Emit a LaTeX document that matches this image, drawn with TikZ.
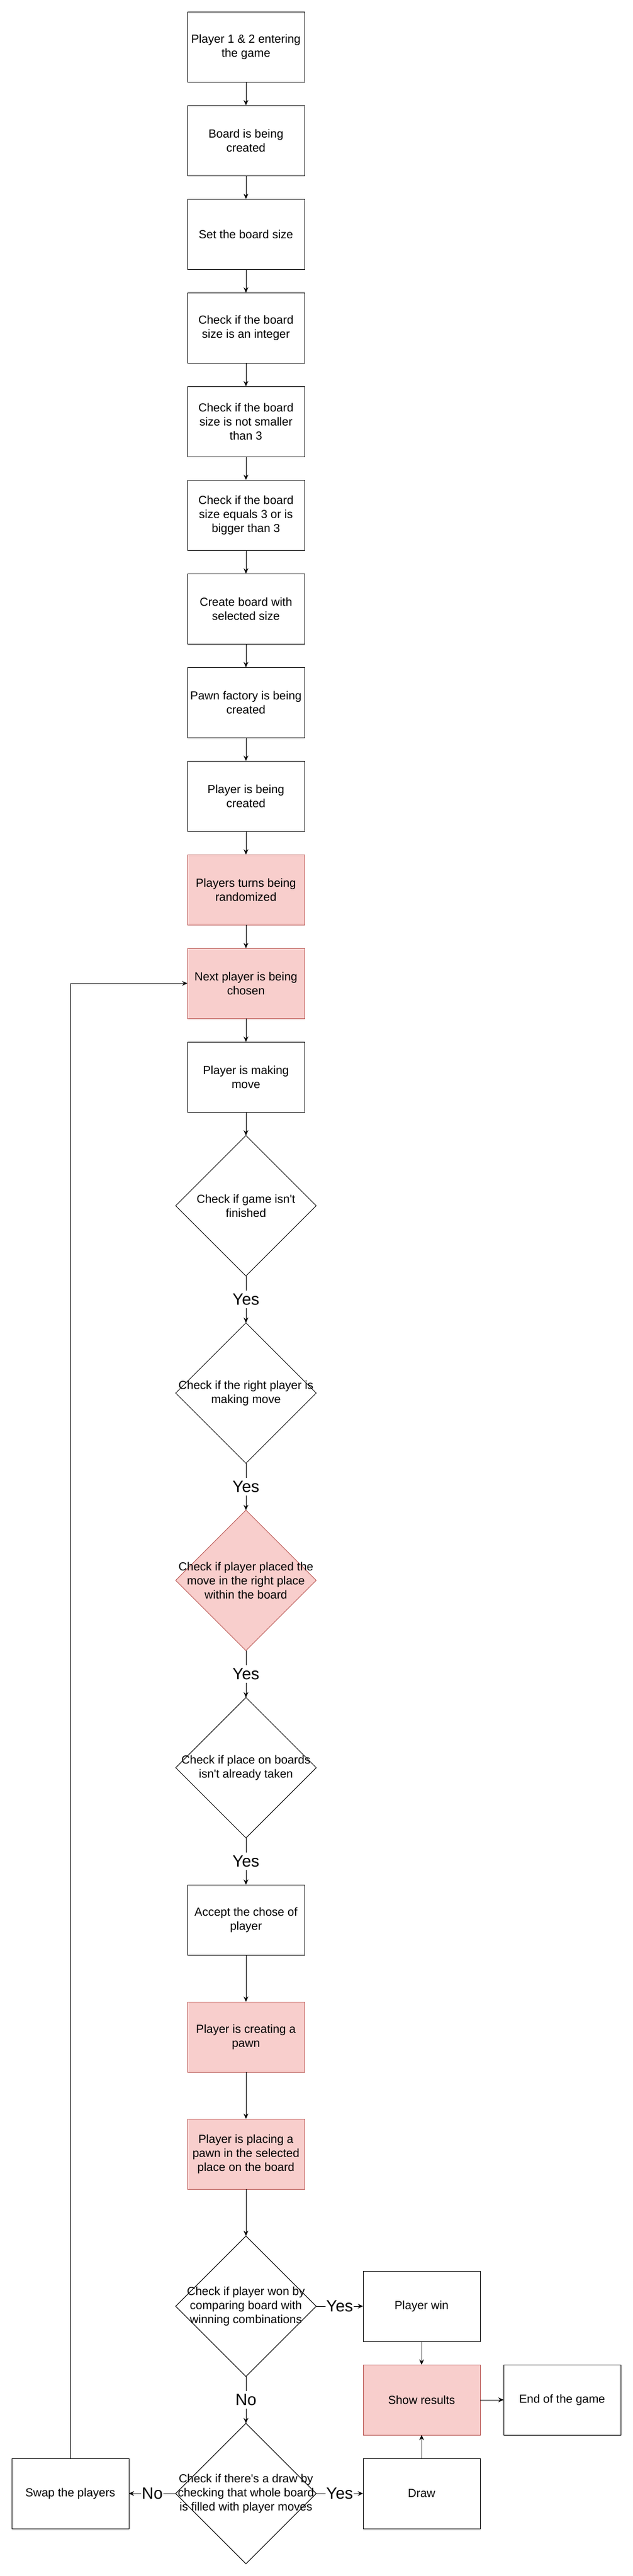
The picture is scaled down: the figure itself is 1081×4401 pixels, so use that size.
\documentclass[tikz,border=0pt]{standalone}
\usepackage{fontspec}
\newfontfamily\flowfont{Liberation Sans}
\usetikzlibrary{arrows, positioning, shapes.geometric, arrows.meta}
\definecolor{pinkfill}{HTML}{F8CECC}
\definecolor{pinkline}{HTML}{B85450}

\begin{document}
\begin{tikzpicture}[x=1pt, y=-1pt, node distance=40pt, line width=1pt, >={Stealth[length=9pt, width=8pt, inset=3pt]},
		box/.style={rectangle, draw, minimum width=200pt, minimum height=120pt, inner sep=0pt, outer sep=0pt, align=center, font=\flowfont\fontsize{20}{24}\selectfont},
		decision/.style={diamond, draw, minimum width=240pt, minimum height=240pt, inner sep=0pt, outer sep=0pt},
		txt/.style={align=center, font=\flowfont\fontsize{20}{24}\selectfont},
		hot/.style={fill=pinkfill, draw=pinkline},
		answer/.style={fill=white, inner xsep=1pt, inner ysep=5pt, font=\flowfont\fontsize{28}{34}\selectfont}]
		\useasboundingbox (0,0) rectangle (1081,4401);
	
		\node [box] (enter) at (420,80) {Player 1 \& 2 entering\\the game};
		\node [box, below=of enter] (board) {Board is being\\created};
		\node [box, below=of board] (size) {Set the board size};
		\node [box, below=of size] (integer) {Check if the board\\size is an integer};
		\node [box, below=of integer] (minsize) {Check if the board\\size is not smaller\\than 3};
		\node [box, below=of minsize] (bigsize) {Check if the board\\size equals 3 or is\\bigger than 3};
		\node [box, below=of bigsize] (create) {Create board with\\selected size};
		\node [box, below=of create] (factory) {Pawn factory is being\\created};
		\node [box, below=of factory] (player) {Player is being\\created};
		\node [box, hot, below=of player] (random) {Players turns being\\randomized};
		\node [box, hot, below=of random] (next) {Next player is being\\chosen};
		\node [box, below=of next] (move) {Player is making\\move};
	
		\node [decision, below=of move, label={[txt]center:Check if game isn't\\finished}] (finished) {};
		\node [decision, below=80pt of finished, label={[txt]center:Check if the right player is\\making move}] (right) {};
		\node [decision, hot, below=80pt of right, label={[txt]center:Check if player placed the\\move in the right place\\within the board}] (place) {};
		\node [decision, below=80pt of place, label={[txt]center:Check if place on boards\\isn't already taken}] (taken) {};
	
		\node [box, below=80pt of taken] (accept) {Accept the chose of\\player};
		\node [box, hot, below=80pt of accept] (pawn) {Player is creating a\\pawn};
		\node [box, hot, below=80pt of pawn] (placing) {Player is placing a\\pawn in the selected\\place on the board};
	
		\node [decision, below=80pt of placing, label={[txt]center:Check if player won by\\comparing board with\\winning combinations}] (won) {};
		\node [decision, below=80pt of won, label={[txt]center:Check if there's a draw by\\checking that whole board\\is filled with player moves}] (tie) {};
	
		\node [box, right=80pt of won] (win) {Player win};
		\node [box, hot, below=of win] (show) {Show results};
		\node [box, right=of show] (gameend) {End of the game};
		\node [box, right=80pt of tie] (drawn) {Draw};
		\node [box, left=80pt of tie] (swap) {Swap the players};
	
		\draw[->] (enter) -- (board);
		\draw[->] (board) -- (size);
		\draw[->] (size) -- (integer);
		\draw[->] (integer) -- (minsize);
		\draw[->] (minsize) -- (bigsize);
		\draw[->] (bigsize) -- (create);
		\draw[->] (create) -- (factory);
		\draw[->] (factory) -- (player);
		\draw[->] (player) -- (random);
		\draw[->] (random) -- (next);
		\draw[->] (next) -- (move);
		\draw[->] (move) -- (finished);
	
		\draw[->] (finished) -- node[answer] {Yes} (right);
		\draw[->] (right) -- node[answer] {Yes} (place);
		\draw[->] (place) -- node[answer] {Yes} (taken);
		\draw[->] (taken) -- node[answer] {Yes} (accept);
	
		\draw[->] (accept) -- (pawn);
		\draw[->] (pawn) -- (placing);
		\draw[->] (placing) -- (won);
	
		\draw[->] (won) -- node[answer] {Yes} (win);
		\draw[->] (won) -- node[answer] {No} (tie);
		\draw[->] (tie) -- node[answer] {Yes} (drawn);
		\draw[->] (tie) -- node[answer] {No} (swap);
	
		\draw[->] (win) -- (show);
		\draw[->] (drawn) -- (show);
		\draw[->] (show) -- (gameend);
		\draw[->] (swap) |- (next);
	\end{tikzpicture}
\end{document}
